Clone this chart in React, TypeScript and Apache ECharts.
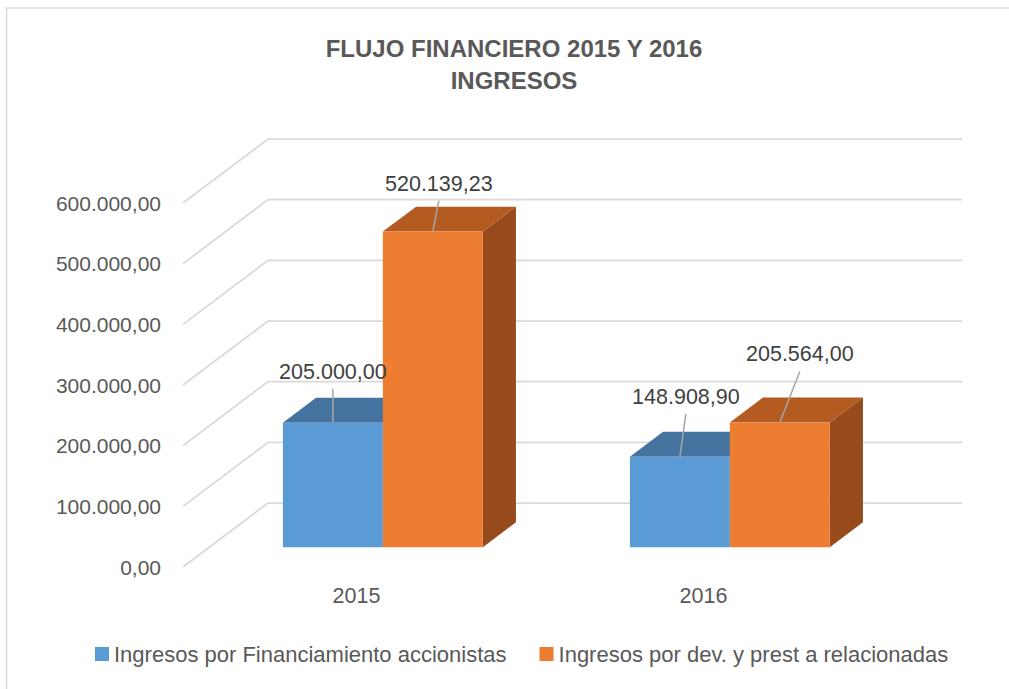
import React, { useEffect, useRef } from "react";
import * as echarts from "echarts";

// ---- data ----
const categories = ["2015", "2016"];
const seriesNames = [
  "Ingresos por Financiamiento accionistas",
  "Ingresos por dev. y prest a relacionadas",
];
const financiamiento = [205000.0, 148908.9];
const devPrest = [520139.23, 205564.0];
const yTicks = [0, 100000, 200000, 300000, 400000, 500000, 600000];

// ---- style ----
const FONT = '"Liberation Sans", Arial, sans-serif';
const DEPTH = [85, -64]; // full depth of the 3D floor (px)
const BAR_FRONT = 0.31; // bar front position as fraction of depth
const BAR_DEPTH = 0.39; // bar depth as fraction of depth
const BAR_FRAC = 0.288; // bar width as fraction of category band
const COLORS = [
  { front: "#5B9BD5", top: "#44739F", side: "#3A6187" },
  { front: "#ED7D31", top: "#B45B22", side: "#974B1C" },
];
// label offset from front-top-centre of each bar [series][category]
const labelOffsets = [
  [[0, -51], [6, -60]],
  [[6, -48], [20, -68]],
];

const seriesValues = [financiamiento, devPrest];

function fmt(v: number): string {
  const [i, d] = v.toFixed(2).split(".");
  return i.replace(/\B(?=(\d{3})+(?!\d))/g, ".") + "," + d;
}

function barGeom(api: any, c: number, v: number, s: number) {
  const base = api.coord([c, 0]);
  const top = api.coord([c, v]);
  const bw = api.size([1, 0])[0];
  const w = bw * BAR_FRAC;
  const n = seriesValues.length;
  const fx = DEPTH[0] * BAR_FRONT;
  const fy = DEPTH[1] * BAR_FRONT;
  const dx = DEPTH[0] * BAR_DEPTH;
  const dy = DEPTH[1] * BAR_DEPTH;
  const x0 = base[0] - (n * w) / 2 + s * w + fx;
  const x1 = x0 + w;
  const yb = base[1] + fy;
  const yt = top[1] + fy;
  return { x0, x1, yb, yt, dx, dy, w };
}

export default function App() {
  const ref = useRef<HTMLDivElement>(null);
  useEffect(() => {
    if (!ref.current) return;
    const chart = echarts.init(ref.current, undefined, { renderer: "svg" });

    const barSeries = seriesValues.map((vals, s) => ({
      type: "custom",
      name: seriesNames[s],
      coordinateSystem: "cartesian2d",
      clip: false,
      itemStyle: { color: COLORS[s].front },
      data: vals.map((v, c) => [c, v]),
      renderItem: (params: any, api: any) => {
        const c = api.value(0);
        const v = api.value(1);
        const g = barGeom(api, c, v, s);
        const col = COLORS[s];
        return {
          type: "group",
          children: [
            {
              type: "polygon",
              shape: {
                points: [
                  [g.x1, g.yt],
                  [g.x1, g.yb],
                  [g.x1 + g.dx, g.yb + g.dy],
                  [g.x1 + g.dx, g.yt + g.dy],
                ],
              },
              style: { fill: col.side },
            },
            {
              type: "polygon",
              shape: {
                points: [
                  [g.x0, g.yt],
                  [g.x1, g.yt],
                  [g.x1 + g.dx, g.yt + g.dy],
                  [g.x0 + g.dx, g.yt + g.dy],
                ],
              },
              style: { fill: col.top },
            },
            {
              type: "rect",
              shape: { x: g.x0, y: g.yt, width: g.w, height: g.yb - g.yt },
              style: { fill: col.front },
            },
          ],
        };
      },
    }));

    const labelData: number[][] = [];
    seriesValues.forEach((vals, s) =>
      vals.forEach((v, c) => labelData.push([c, v, s]))
    );

    const option: any = {
      animation: false,
      backgroundColor: "#ffffff",
      title: {
        text: "FLUJO FINANCIERO 2015 Y 2016\nINGRESOS",
        left: 514,
        top: 32,
        padding: 0,
        textAlign: "center",
        textStyle: {
          fontFamily: FONT,
          fontSize: 24,
          fontWeight: "bold",
          color: "#595959",
          lineHeight: 32,
        },
      },
      legend: {
        data: seriesNames,
        left: 95,
        top: 643,
        padding: 0,
        icon: "rect",
        itemWidth: 14,
        itemHeight: 14,
        itemGap: 33,
        textStyle: {
          fontFamily: FONT,
          fontSize: 22,
          color: "#595959",
          lineHeight: 22,
        },
      },
      grid: { left: 183, right: 132, top: 203, bottom: 122 },
      xAxis: {
        type: "category",
        data: categories,
        axisLine: { show: false },
        axisTick: { show: false },
        axisLabel: {
          margin: 18,
          fontFamily: FONT,
          fontSize: 21.5,
          color: "#595959",
        },
        splitLine: { show: false },
      },
      yAxis: {
        type: "value",
        min: 0,
        max: 600000,
        interval: 100000,
        axisLine: { show: false },
        axisTick: { show: false },
        splitLine: { show: false },
        axisLabel: {
          margin: 22,
          fontFamily: FONT,
          fontSize: 21,
          color: "#595959",
          formatter: (v: number) => fmt(v),
        },
      },
      graphic: [
        {
          type: "rect",
          silent: true,
          shape: { x: 6.5, y: 8, width: 2000, height: 2000 },
          style: { fill: "none", stroke: "#D9D9D9", lineWidth: 1.5 },
        },
      ],
      series: [
        {
          type: "custom",
          name: "grid3d",
          coordinateSystem: "cartesian2d",
          clip: false,
          silent: true,
          data: yTicks.map((t) => [0, t]),
          renderItem: (params: any, api: any) => {
            const v = api.value(1);
            const p = api.coord([0, v]);
            const bw = api.size([1, 0])[0];
            const xl = p[0] - bw / 2;
            const xr = xl + categories.length * bw;
            return {
              type: "polyline",
              shape: {
                points: [
                  [xl, p[1]],
                  [xl + DEPTH[0], p[1] + DEPTH[1]],
                  [xr + DEPTH[0], p[1] + DEPTH[1]],
                ],
              },
              style: { stroke: "#D9D9D9", lineWidth: 1.75, fill: "none" },
            };
          },
        },
        ...barSeries,
        {
          type: "custom",
          name: "labels",
          coordinateSystem: "cartesian2d",
          clip: false,
          silent: true,
          data: labelData,
          renderItem: (params: any, api: any) => {
            const c = api.value(0);
            const v = api.value(1);
            const s = api.value(2);
            const g = barGeom(api, c, v, s);
            const ax = g.x0 + g.w / 2;
            const ay = g.yt;
            const off = labelOffsets[s][c];
            const lx = ax + off[0];
            const ly = ay + off[1];
            return {
              type: "group",
              children: [
                {
                  type: "line",
                  shape: { x1: lx, y1: ly + 17, x2: ax, y2: ay },
                  style: { stroke: "#A6A6A6", lineWidth: 1.5 },
                },
                {
                  type: "text",
                  x: lx,
                  y: ly,
                  style: {
                    text: fmt(v),
                    fill: "#404040",
                    fontFamily: FONT,
                    fontSize: 21.5,
                    align: "center",
                    verticalAlign: "middle",
                  },
                },
              ],
            };
          },
        },
      ],
    };
    chart.setOption(option);
    return () => chart.dispose();
  }, []);
  return (
    <div
      ref={ref}
      style={{ position: "fixed", left: 0, top: 0, width: 1009, height: 689 }}
    />
  );
}
